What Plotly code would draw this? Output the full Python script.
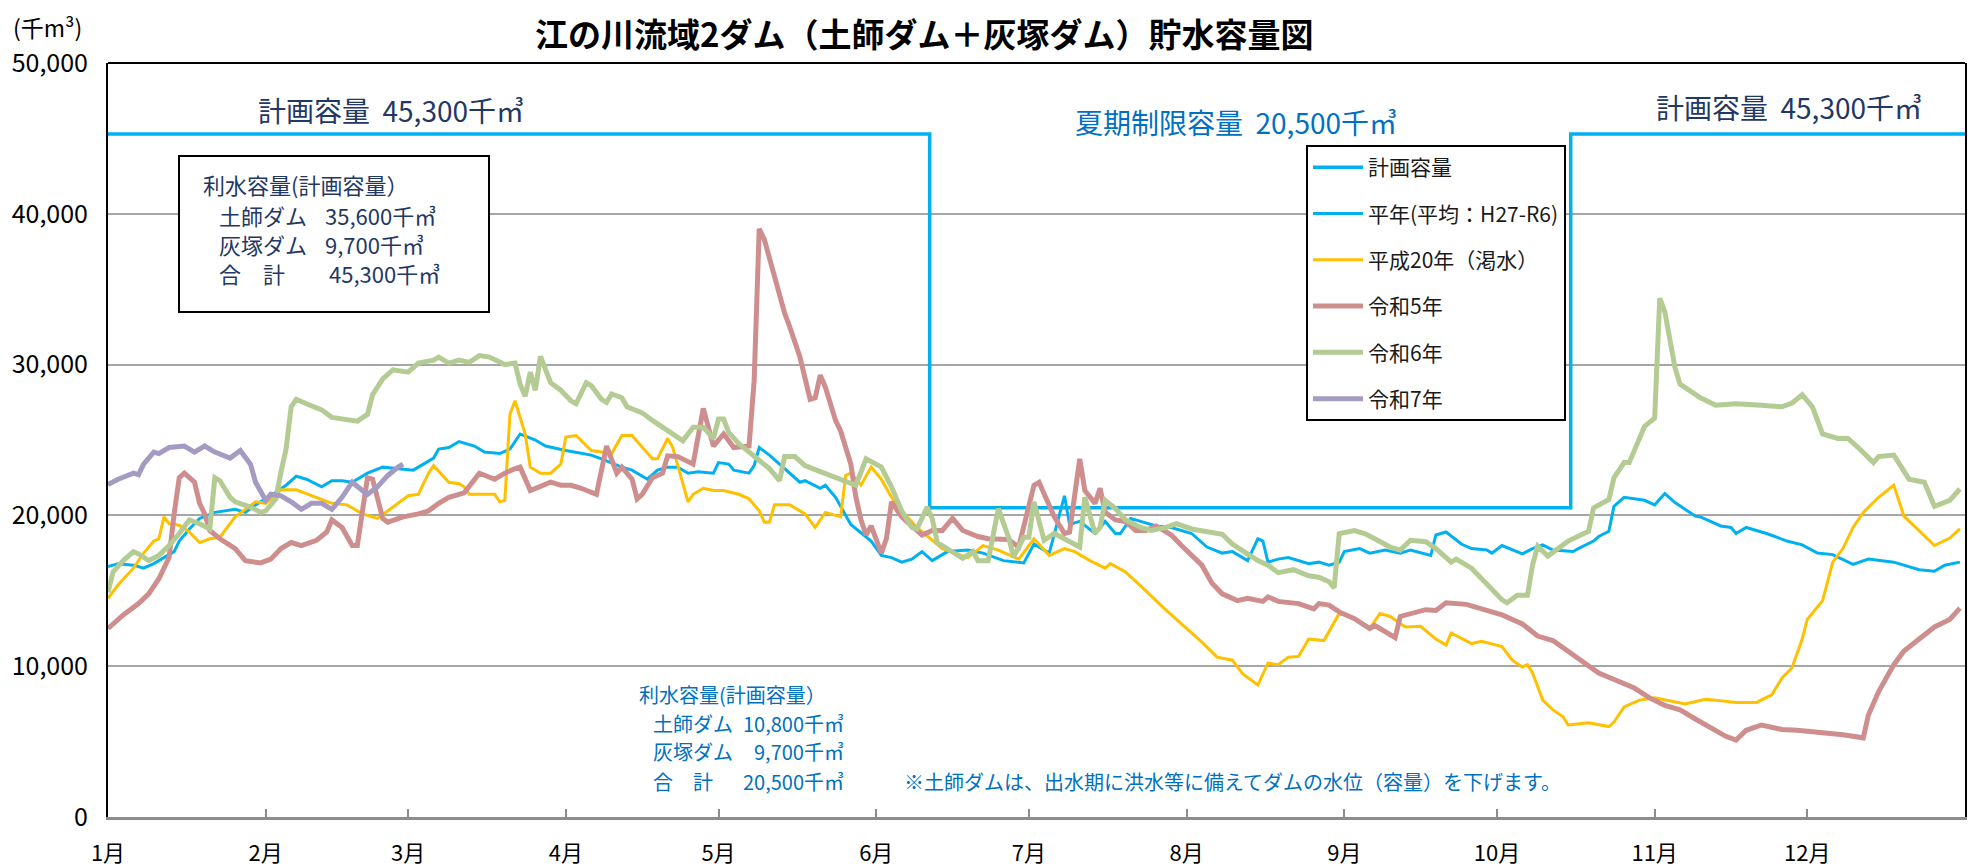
import plotly.graph_objects as go

FONT = "Noto Sans CJK JP"

# ---------------- axis data ----------------
MONTH_START_DAYS = [0, 31, 59, 90, 120, 151, 181, 212, 243, 273, 304, 334]
MONTH_LABELS = ["1月", "2月", "3月", "4月", "5月", "6月", "7月", "8月", "9月", "10月", "11月", "12月"]

# ---------------- 計画容量 (step) ----------------
PLAN_DAYS = [0, 161.5, 287.5, 365]
PLAN_VALUES = [45300, 20500, 45300, 45300]

# ---------------- 平年(平均：H27-R6) ----------------
HEINEN_DAYS = [0, 2, 5, 7, 9, 11, 13, 14, 16, 18, 21, 25, 27, 29, 32, 35, 37, 39, 42, 44, 46, 48, 51, 54, 57, 60,
               62, 64, 65, 67, 69, 72, 74, 77, 79, 81, 84, 86, 90, 95, 97, 100, 101, 103, 106, 108, 110, 112, 114,
               116, 119, 120, 122, 123, 126, 127, 128, 130, 133, 136, 137, 140, 141, 143, 146, 150, 152, 154, 156,
               158, 160, 162, 165, 169, 172, 176, 180, 182, 185, 188, 189, 191, 194, 196, 198, 199, 201, 203, 206,
               209, 213, 216, 219, 221, 224, 226, 227, 228, 230, 232, 236, 238, 240, 242, 243, 246, 248, 251, 254,
               256, 260, 261, 263, 266, 268, 271, 272, 274, 276, 278, 280, 282, 284, 288, 289, 292, 293, 295, 296,
               298, 302, 304, 306, 308, 312, 313, 317, 319, 320, 322, 326, 330, 333, 336, 339, 343, 346, 351, 356,
               359, 361, 364]
HEINEN_VALUES = [16600, 16800, 16700, 16500, 16800, 17200, 17600, 18300, 19100, 19800, 20200, 20400, 20200, 20700,
                 21300, 22000, 22600, 22400, 21900, 22300, 22300, 22200, 22800, 23200, 23100, 23000, 23400, 23800,
                 24400, 24500, 24900, 24600, 24200, 24100, 24400, 25400, 25000, 24600, 24300, 24000, 23750, 23300,
                 23200, 23000, 22400, 23000, 23200, 23200, 22800, 22900, 22800, 23500, 23400, 23000, 22800, 23300,
                 24500, 24000, 23100, 22200, 22300, 21800, 22000, 21200, 19400, 18300, 17350, 17200, 16900, 17100,
                 17600, 17000, 17600, 17700, 17500, 17000, 16850, 18100, 17500, 21300, 19400, 19600, 18800, 19600,
                 18800, 18800, 19800, 19600, 19300, 19200, 18800, 17900, 17500, 17600, 17000, 18450, 18300, 16900,
                 17100, 17200, 16800, 16900, 16700, 16900, 17600, 17800, 17500, 17700, 17500, 17700, 17350, 18700,
                 18900, 18100, 17800, 17700, 17500, 18000, 17700, 17450, 17800, 18050, 17700, 17600, 17800, 18300,
                 18600, 18950, 20600, 21200, 21000, 20700, 21450, 20850, 19950, 19900, 19300, 19200, 18800, 19200,
                 18800, 18300, 18050, 17500, 17400, 16750, 17100, 16900, 16400, 16300, 16700, 16900]

# ---------------- 平成20年（渇水） ----------------
H20_DAYS = [0, 2, 5, 7, 9, 10, 11, 12, 14, 16, 18, 20, 22, 25, 27, 29, 31, 34, 37, 40, 44, 47, 50, 53, 55, 59, 61,
            63, 64, 67, 69, 70, 71, 76, 77, 78, 79, 80, 82, 83, 85, 87, 89, 90, 92, 95, 99, 101, 103, 107, 108, 110,
            111, 113, 114, 115, 117, 119, 121, 124, 126, 128, 129, 130, 131, 134, 137, 139, 141, 144, 145, 146, 148,
            150, 152, 154, 156, 159, 162, 164, 169, 172, 175, 179, 182, 185, 188, 190, 193, 196, 197, 200, 204, 208,
            211, 215, 218, 221, 223, 226, 228, 230, 232, 234, 236, 239, 242, 245, 248, 250, 252, 255, 258, 261, 263,
            264, 268, 270, 274, 276, 278, 279, 280, 282, 284, 286, 287, 291, 295, 296, 298, 301, 304, 308, 310, 314,
            316, 320, 324, 327, 329, 331, 333, 334, 337, 339, 341, 343, 345, 348, 351, 353, 355, 357, 359, 362, 364]
H20_VALUES = [14500, 15400, 16500, 17500, 18300, 18450, 19900, 19450, 19350, 18900, 18200, 18450, 18550, 19900,
              20400, 20900, 20800, 21700, 21700, 21300, 20800, 20700, 20100, 19800, 20300, 21300, 21400, 22800,
              23300, 22200, 22100, 21900, 21400, 21400, 20900, 21000, 26700, 27600, 25400, 23200, 22800, 22800,
              23400, 25200, 25300, 24300, 24100, 25300, 25300, 23750, 23750, 25100, 24500, 22100, 20900, 21400,
              21800, 21650, 21650, 21400, 21100, 20300, 19550, 19550, 20700, 20700, 20100, 19200, 20200, 19900,
              22650, 22800, 22000, 23200, 22400, 21200, 20300, 19200, 18350, 17800, 17200, 18000, 17700, 17100,
              18450, 17350, 17800, 17600, 17000, 16500, 16800, 16250, 15000, 13700, 12800, 11600, 10600, 10400,
              9500, 8750, 10200, 10100, 10600, 10650, 11800, 11700, 13500, 13150, 12500, 13500, 13300, 12600,
              12650, 11800, 11400, 12200, 11500, 11650, 11300, 10400, 9950, 10100, 9550, 7750, 7100, 6650, 6100,
              6250, 6000, 6300, 7300, 7750, 7900, 7650, 7500, 7800, 7750, 7600, 7600, 8100, 9200, 9900, 11800,
              13100, 14350, 16900, 17800, 19200, 20200, 21200, 22000, 19950, 19300, 18700, 18000, 18500, 19100]

# ---------------- 令和5年 ----------------
R5_DAYS = [0, 3, 6, 8, 10, 12, 13, 14, 15, 17, 18, 19, 20, 22, 25, 27, 30, 32, 34, 36, 38, 41, 43, 44, 46, 48, 49,
           50, 51, 52, 53, 54, 55, 58, 61, 63, 65, 67, 70, 72, 73, 76, 78, 80, 81, 83, 87, 89, 91, 93, 96, 98, 100,
           101, 103, 104, 105, 107, 109, 110, 112, 115, 117, 119, 121, 123, 126, 127, 128, 129, 133, 134, 136, 138,
           139, 140, 141, 143, 144, 146, 147, 148, 149, 150, 152, 153, 154, 156, 158, 160, 162, 164, 166, 168, 171,
           173, 177, 179, 182, 183, 186, 188, 189, 191, 192, 194, 195, 196, 198, 200, 202, 204, 206, 209, 211, 215,
           217, 219, 222, 224, 227, 228, 230, 234, 237, 238, 240, 242, 245, 248, 249, 253, 254, 257, 259, 261, 263,
           267, 270, 274, 278, 281, 284, 287, 291, 293, 300, 303, 306, 309, 312, 316, 318, 320, 322, 325, 329, 332,
           336, 341, 345, 346, 348, 351, 353, 356, 359, 362, 364]
R5_VALUES = [12500, 13400, 14150, 14800, 15800, 17200, 20100, 22500, 22800, 22200, 20800, 20100, 19000, 18450, 17800,
             17000, 16850, 17100, 17800, 18200, 18000, 18350, 18900, 19700, 19200, 18000, 18000, 20450, 22500,
             22400, 21000, 19800, 19550, 19900, 20100, 20300, 20800, 21200, 21500, 22400, 22800, 22400, 22800,
             23100, 23200, 21650, 22200, 22000, 22000, 21800, 21400, 24600, 22800, 23200, 22400, 21100, 21400,
             22500, 22800, 23950, 23900, 23400, 27100, 24600, 25400, 24500, 24600, 28900, 39000, 38300, 33400,
             32500, 30500, 27700, 27800, 29300, 28500, 26300, 25600, 23400, 21200, 19700, 18700, 19300, 17500,
             18450, 20900, 19900, 19300, 18700, 19000, 19000, 19800, 19000, 18600, 18450, 18400, 17900, 22000,
             22200, 19900, 18800, 18900, 23750, 21650, 20800, 21800, 20200, 19700, 19600, 19000, 19000, 19300,
             18700, 18000, 16700, 15500, 14800, 14350, 14500, 14300, 14600, 14300, 14150, 13800, 14150, 14050,
             13600, 13150, 12500, 12700, 11900, 13300, 13600, 13750, 13700, 14200, 14100, 13800, 13400, 12800,
             12000, 11700, 11000, 10100, 9550, 8550, 7900, 7400, 7100, 6500, 5750, 5350, 5100, 5750, 6100, 5800,
             5750, 5650, 5450, 5250, 6750, 8300, 10100, 11000, 11800, 12600, 13100, 13850]

# ---------------- 令和6年 ----------------
R6_DAYS = [0, 1, 3, 5, 6, 8, 10, 12, 14, 16, 18, 20, 21, 22, 24, 25, 28, 30, 31, 33, 34, 35, 36, 37, 39, 42, 44, 47,
           49, 51, 52, 54, 56, 59, 61, 64, 65, 67, 69, 71, 73, 75, 78, 80, 81, 82, 83, 84, 85, 87, 89, 91, 92, 94,
           95, 97, 98, 99, 101, 102, 105, 107, 110, 112, 113, 115, 117, 119, 120, 121, 122, 124, 127, 128, 130,
           132, 133, 135, 137, 140, 143, 145, 147, 149, 152, 154, 156, 158, 159, 161, 162, 163, 166, 168, 170, 171,
           173, 175, 177, 178, 180, 181, 182, 184, 186, 188, 190, 191, 192, 194, 195, 196, 198, 200, 203, 205, 208,
           210, 213, 216, 219, 221, 224, 226, 228, 230, 233, 236, 238, 240, 241, 242, 245, 247, 249, 252, 254, 256,
           259, 261, 264, 265, 268, 271, 274, 275, 277, 279, 280, 281, 283, 287, 291, 292, 295, 296, 298, 299, 301,
           302, 304, 305, 306, 308, 309, 313, 316, 320, 325, 329, 331, 333, 335, 337, 340, 342, 344, 347, 348, 351,
           354, 357, 359, 362, 364]
R6_VALUES = [14900, 16250, 17000, 17600, 17450, 17000, 17350, 18000, 18800, 19700, 19450, 19100, 22500, 22300,
             21200, 20900, 20550, 20200, 20300, 21100, 22900, 24400, 27200, 27700, 27400, 27000, 26500, 26300,
             26250, 26700, 28000, 29050, 29650, 29500, 30100, 30300, 30500, 30100, 30300, 30150, 30600, 30500,
             30000, 30100, 28700, 27900, 29500, 28300, 30550, 28800, 28300, 27600, 27400, 28800, 28600, 27700,
             27500, 28050, 27800, 27200, 26800, 26300, 25600, 25150, 24950, 25850, 25850, 25100, 26400, 26400,
             25500, 24750, 23900, 23600, 23100, 22300, 23900, 23900, 23300, 22900, 22500, 22300, 22000, 23750,
             23200, 21900, 20300, 19200, 19100, 20550, 19800, 18200, 17600, 17150, 17600, 17000, 17000, 20450,
             18550, 17250, 18550, 18550, 20900, 18350, 18800, 18450, 18100, 17900, 21200, 18800, 19200, 21000,
             20450, 19700, 19200, 19000, 19200, 19450, 19100, 18900, 18750, 18100, 17450, 17000, 16700, 16200,
             16400, 16000, 15900, 15600, 15200, 18800, 19000, 18800, 18450, 17900, 17700, 18350, 18250, 17800,
             16900, 17100, 16500, 15500, 14400, 14200, 14700, 14700, 16700, 17950, 17300, 18300, 18950, 20500,
             21050, 22500, 23500, 23500, 25100, 25900, 26450, 34400, 33500, 29800, 28700, 27800, 27300, 27400,
             27300, 27200, 27450, 28000, 27200, 25400, 25100, 25100, 24500, 23500, 23900, 24000, 22400, 22200,
             20600, 21000, 21750]

# ---------------- 令和7年 ----------------
R7_DAYS = [0, 2, 5, 6, 7, 9, 10, 12, 15, 17, 19, 21, 24, 26, 28, 29, 31, 32, 34, 36, 38, 40, 42, 44, 46, 48, 50,
           51, 53, 55, 57, 58]
R7_VALUES = [22050, 22400, 22800, 22700, 23400, 24200, 24100, 24500, 24600, 24200, 24600, 24200, 23800, 24300,
             23400, 22200, 21000, 21400, 21300, 20900, 20400, 20800, 20800, 20400, 21200, 22200, 21650, 21400,
             21900, 22650, 23200, 23400]

# ---------------- page geometry (pixels on the 1975x866 page) ----------------
PAGE_OFFSET = 8                     # default body margin of the html page
W, H = 1975 - PAGE_OFFSET, 866 - PAGE_OFFSET
L, R, T, B = 108, 1965, 63, 817     # plot area on the page


def px(x):
    return (x - L) / (R - L)


def py(y):
    return (B - y) / (B - T)


fig = go.Figure()

series = [
    ("計画容量", PLAN_DAYS, PLAN_VALUES, "#00B0F0", 3.5, "hv"),
    ("平年(平均：H27-R6)", HEINEN_DAYS, HEINEN_VALUES, "#00B0F0", 3, "linear"),
    ("平成20年（渇水）", H20_DAYS, H20_VALUES, "#FFC000", 3, "linear"),
    ("令和5年", R5_DAYS, R5_VALUES, "#CE8E8E", 5, "linear"),
    ("令和6年", R6_DAYS, R6_VALUES, "#B4CB93", 5, "linear"),
    ("令和7年", R7_DAYS, R7_VALUES, "#A59BC2", 5, "linear"),
]
for i, (name, xs, ys, color, width, shape) in enumerate(series):
    fig.add_trace(go.Scatter(
        x=xs, y=ys, name=name, mode="lines", legendgroup=f"g{i}",
        line=dict(color=color, width=width, shape=shape),
    ))

NAVY = "#1F3864"
BLUE = "#0070C0"

annotations = []


def ann(text, x, y, size, color, xanchor="center", bold=False):
    if bold:
        text = f"<b>{text}</b>"
    annotations.append(dict(
        text=text, x=px(x), y=py(y), xref="paper", yref="paper",
        xanchor=xanchor, yanchor="middle", showarrow=False,
        font=dict(size=size, color=color, family=FONT),
    ))


# title & unit
ann("江の川流域2ダム（土師ダム＋灰塚ダム）貯水容量図", 924, 33, 33, "#000000", bold=True)
ann("(千m³)", 11, 27, 23, "#000000", xanchor="left")

# capacity labels
ann("計画容量  45,300千㎥", 391, 110, 28, NAVY)
ann("夏期制限容量  20,500千㎥", 1236, 122, 28, BLUE)
ann("計画容量  45,300千㎥", 1789, 107, 28, NAVY)

# left boxed text
ann("利水容量(計画容量）", 201, 184, 22, NAVY, xanchor="left")
ann("土師ダム", 217, 215, 22, NAVY, xanchor="left")
ann("35,600千㎥", 323, 215, 22, NAVY, xanchor="left")
ann("灰塚ダム", 217, 244, 22, NAVY, xanchor="left")
ann("9,700千㎥", 323, 244, 22, NAVY, xanchor="left")
ann("合　計", 217, 273, 22, NAVY, xanchor="left")
ann("45,300千㎥", 327, 273, 22, NAVY, xanchor="left")

# bottom text
ann("利水容量(計画容量）", 637, 694, 20, BLUE, xanchor="left")
ann("土師ダム", 651, 723, 20, BLUE, xanchor="left")
ann("10,800千㎥", 846, 723, 20, BLUE, xanchor="right")
ann("灰塚ダム", 651, 751, 20, BLUE, xanchor="left")
ann("9,700千㎥", 846, 751, 20, BLUE, xanchor="right")
ann("合　計", 651, 781, 20, BLUE, xanchor="left")
ann("20,500千㎥", 846, 781, 20, BLUE, xanchor="right")
ann("※土師ダムは、出水期に洪水等に備えてダムの水位（容量）を下げます。", 902, 781, 20, BLUE, xanchor="left")

shapes = [
    dict(type="rect", xref="paper", yref="paper", x0=px(179), x1=px(489), y0=py(312), y1=py(156),
         line=dict(color="#000000", width=2), fillcolor="#FFFFFF", layer="above"),
    dict(type="line", xref="paper", yref="paper", x0=0, x1=1, y0=1, y1=1,
         line=dict(color="#000000", width=2), layer="above"),
]

fig.update_layout(
    width=W, height=H, autosize=False,
    margin=dict(l=L - PAGE_OFFSET, r=W - (R - PAGE_OFFSET), t=T - PAGE_OFFSET, b=H - (B - PAGE_OFFSET), pad=0),
    paper_bgcolor="#FFFFFF", plot_bgcolor="#FFFFFF",
    font=dict(family=FONT, color="#000000"),
    annotations=annotations, shapes=shapes,
    showlegend=True,
    legend=dict(
        x=px(1306), y=py(145), xanchor="left", yanchor="top",
        bordercolor="#000000", borderwidth=2, bgcolor="#FFFFFF",
        font=dict(size=21, color="#1A1A1A", family=FONT),
        tracegroupgap=16, itemwidth=50,
    ),
    xaxis=dict(
        range=[0, 365], tickmode="array", tickvals=MONTH_START_DAYS, ticktext=MONTH_LABELS,
        ticks="inside", ticklen=8, tickwidth=2, tickcolor="#8C8C8C",
        showline=True, linecolor="#8C8C8C", linewidth=3, showgrid=False, zeroline=False,
        tickfont=dict(size=22, color="#000000", family=FONT), ticklabelstandoff=15,
        automargin=False,
    ),
    yaxis=dict(
        range=[0, 50000], dtick=10000, tickformat=",", ticks="",
        showgrid=True, gridcolor="#A6A6A6", gridwidth=2,
        showline=True, linecolor="#000000", linewidth=2, mirror=True, zeroline=False,
        tickfont=dict(size=25, color="#000000", family=FONT), ticklabelstandoff=13,
        automargin=False,
    ),
)

fig.write_html("out.html")
